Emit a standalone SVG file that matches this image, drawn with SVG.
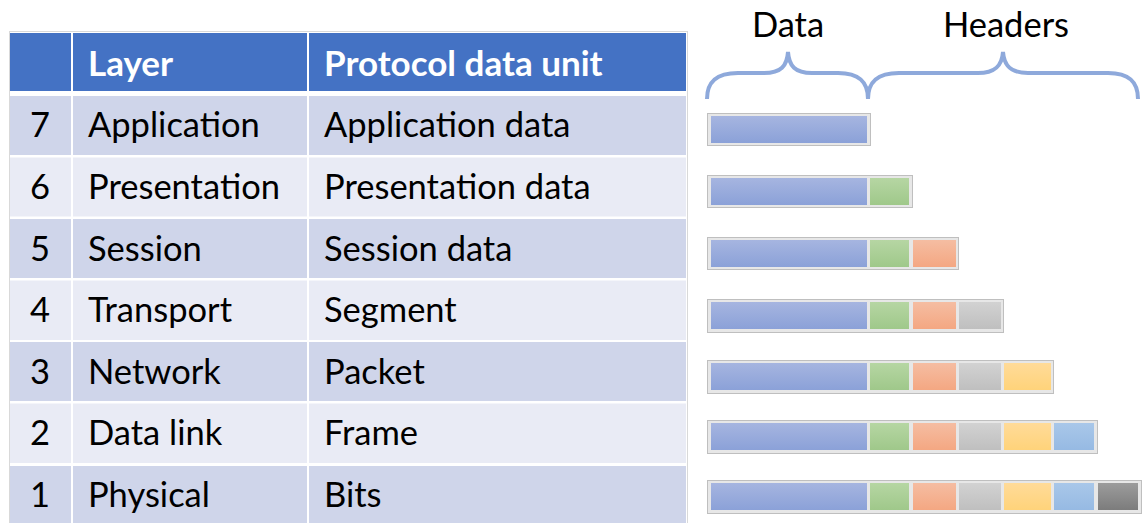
<svg xmlns="http://www.w3.org/2000/svg" width="1142" height="523" viewBox="0 0 1142 523">
<defs>
<style>
.t{font-family:Lato,"Liberation Sans",sans-serif;font-size:34.5px;fill:#000}
.h{font-family:Lato,"Liberation Sans",sans-serif;font-size:35px;font-weight:bold;fill:#fff}
.n{text-anchor:middle}
.odd{fill:#CFD5EA}
.even{fill:#E9EBF5}
.hd{fill:#4472C4}
.brace{fill:none;stroke:#8EA9DB;stroke-width:4;stroke-linecap:butt}
.box{fill:#E7E7E7;stroke:#BFBFBF;stroke-width:1}
</style>
<linearGradient id="gB" x1="0" y1="0" x2="0" y2="1"><stop offset="0" stop-color="#A6B5E0"/><stop offset="1" stop-color="#8BA1D8"/></linearGradient>
<linearGradient id="gG" x1="0" y1="0" x2="0" y2="1"><stop offset="0" stop-color="#B6D6A3"/><stop offset="1" stop-color="#9FC88A"/></linearGradient>
<linearGradient id="gO" x1="0" y1="0" x2="0" y2="1"><stop offset="0" stop-color="#F5BDA2"/><stop offset="1" stop-color="#F4A782"/></linearGradient>
<linearGradient id="gY" x1="0" y1="0" x2="0" y2="1"><stop offset="0" stop-color="#D2D2D2"/><stop offset="1" stop-color="#BFBFBF"/></linearGradient>
<linearGradient id="gW" x1="0" y1="0" x2="0" y2="1"><stop offset="0" stop-color="#FFDB99"/><stop offset="1" stop-color="#FFD37A"/></linearGradient>
<linearGradient id="gL" x1="0" y1="0" x2="0" y2="1"><stop offset="0" stop-color="#A9C7E9"/><stop offset="1" stop-color="#96BAE3"/></linearGradient>
<linearGradient id="gD" x1="0" y1="0" x2="0" y2="1"><stop offset="0" stop-color="#9C9C9C"/><stop offset="1" stop-color="#7C7C7C"/></linearGradient>
<g id="s1"><rect x="711" y="3" width="156" height="27" fill="url(#gB)"/></g>
<g id="s2"><rect x="870" y="3" width="39" height="27" fill="url(#gG)"/></g>
<g id="s3"><rect x="913" y="3" width="43" height="27" fill="url(#gO)"/></g>
<g id="s4"><rect x="959" y="3" width="42" height="27" fill="url(#gY)"/></g>
<g id="s5"><rect x="1004" y="3" width="47" height="27" fill="url(#gW)"/></g>
<g id="s6"><rect x="1054" y="3" width="40" height="27" fill="url(#gL)"/></g>
<g id="s7"><rect x="1098" y="3" width="40" height="27" fill="url(#gD)"/></g>
</defs>
<rect width="1142" height="523" fill="#fff"/>

<g id="table">
<rect x="9.5" y="31.5" width="678" height="495" fill="none" stroke="#D9D9D9" stroke-width="1"/>
<g id="header">
<rect class="hd" x="10" y="33" width="61" height="58"/>
<rect class="hd" x="73" y="33" width="234" height="58"/>
<rect class="hd" x="309" y="33" width="377" height="58"/>
<text class="h" x="88" y="76">Layer</text>
<text class="h" x="324" y="76">Protocol data unit</text>
</g>
<g id="row7">
<rect class="odd" x="10" y="96" width="61" height="59"/><rect class="odd" x="73" y="96" width="234" height="59"/><rect class="odd" x="309" y="96" width="377" height="59"/>
<text class="t n" x="40" y="137">7</text><text class="t" x="88" y="137">Application</text><text class="t" x="324" y="137">Application data</text>
</g>
<g id="row6">
<rect class="even" x="10" y="157.5" width="61" height="59"/><rect class="even" x="73" y="157.5" width="234" height="59"/><rect class="even" x="309" y="157.5" width="377" height="59"/>
<text class="t n" x="40" y="199">6</text><text class="t" x="88" y="199">Presentation</text><text class="t" x="324" y="199">Presentation data</text>
</g>
<g id="row5">
<rect class="odd" x="10" y="219" width="61" height="59"/><rect class="odd" x="73" y="219" width="234" height="59"/><rect class="odd" x="309" y="219" width="377" height="59"/>
<text class="t n" x="40" y="260.5">5</text><text class="t" x="88" y="260.5">Session</text><text class="t" x="324" y="260.5">Session data</text>
</g>
<g id="row4">
<rect class="even" x="10" y="280.5" width="61" height="59.5"/><rect class="even" x="73" y="280.5" width="234" height="59.5"/><rect class="even" x="309" y="280.5" width="377" height="59.5"/>
<text class="t n" x="40" y="322">4</text><text class="t" x="88" y="322">Transport</text><text class="t" x="324" y="322">Segment</text>
</g>
<g id="row3">
<rect class="odd" x="10" y="342" width="61" height="59"/><rect class="odd" x="73" y="342" width="234" height="59"/><rect class="odd" x="309" y="342" width="377" height="59"/>
<text class="t n" x="40" y="383.5">3</text><text class="t" x="88" y="383.5">Network</text><text class="t" x="324" y="383.5">Packet</text>
</g>
<g id="row2">
<rect class="even" x="10" y="403.5" width="61" height="59.5"/><rect class="even" x="73" y="403.5" width="234" height="59.5"/><rect class="even" x="309" y="403.5" width="377" height="59.5"/>
<text class="t n" x="40" y="445">2</text><text class="t" x="88" y="445">Data link</text><text class="t" x="324" y="445">Frame</text>
</g>
<g id="row1">
<rect class="odd" x="10" y="466" width="61" height="57"/><rect class="odd" x="73" y="466" width="234" height="57"/><rect class="odd" x="309" y="466" width="377" height="57"/>
<text class="t n" x="40" y="507">1</text><text class="t" x="88" y="507">Physical</text><text class="t" x="324" y="507">Bits</text>
</g>
</g>

<g id="braces">
<text class="t n" x="788" y="37">Data</text>
<text class="t n" x="1006" y="37">Headers</text>
<path class="brace" d="M707,99 C707,82 716,73 738,73 L764,73 C781,73 787,66 788,52 C789,66 795,73 812,73 L838,73 C859,73 868,82 868,99"/>
<path class="brace" d="M868,99 C868,82 877,73 899,73 L978,73 C995,73 1002,66 1003,52 C1004,66 1011,73 1028,73 L1108,73 C1129,73 1138,82 1138,99"/>
</g>

<g id="bar7" transform="translate(0,113)">
<rect class="box" x="707.5" y="0.5" width="163" height="32"/>
<use href="#s1"/>
</g>
<g id="bar6" transform="translate(0,175)">
<rect class="box" x="707.5" y="0.5" width="205" height="32"/>
<use href="#s1"/><use href="#s2"/>
</g>
<g id="bar5" transform="translate(0,237)">
<rect class="box" x="707.5" y="0.5" width="251" height="32"/>
<use href="#s1"/><use href="#s2"/><use href="#s3"/>
</g>
<g id="bar4" transform="translate(0,299)">
<rect class="box" x="707.5" y="0.5" width="296" height="33"/>
<use href="#s1"/><use href="#s2"/><use href="#s3"/><use href="#s4"/>
</g>
<g id="bar3" transform="translate(0,360)">
<rect class="box" x="707.5" y="0.5" width="346" height="33"/>
<use href="#s1"/><use href="#s2"/><use href="#s3"/><use href="#s4"/><use href="#s5"/>
</g>
<g id="bar2" transform="translate(0,420)">
<rect class="box" x="707.5" y="0.5" width="390" height="33"/>
<use href="#s1"/><use href="#s2"/><use href="#s3"/><use href="#s4"/><use href="#s5"/><use href="#s6"/>
</g>
<g id="bar1" transform="translate(0,480)">
<rect class="box" x="707.5" y="0.5" width="434" height="33"/>
<use href="#s1"/><use href="#s2"/><use href="#s3"/><use href="#s4"/><use href="#s5"/><use href="#s6"/><use href="#s7"/>
</g>
</svg>
